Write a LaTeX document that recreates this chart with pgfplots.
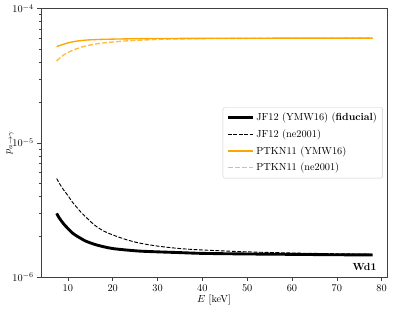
\documentclass[border=0pt]{standalone}
\usepackage{pgfplots}
\pgfplotsset{compat=1.18}
\definecolor{mplorange}{HTML}{FFA500}
\begin{document}
\begin{tikzpicture}
\begin{axis}[
  scale only axis,
  width=336pt, height=260.7pt,
  ymode=log,
  xmin=4, xmax=81.2,
  ymin=1e-6, ymax=1e-4,
  xtick={10,20,30,40,50,60,70,80},
  tick align=outside,
  tick pos=left,
  axis line style={black!75},
  every tick/.style={black!75},
  major tick length=3.5pt,
  minor tick length=2pt,
  xticklabel style={yshift=-1pt},
  xlabel={$E$ [keV]},
  ylabel={$p_{a\to\gamma}$},
  every axis x label/.style={at={(axis description cs:0.5,-0.0855)}, anchor=center},
  every axis y label/.style={at={(axis description cs:-0.0896,0.5)}, anchor=center, rotate=90},
  legend cell align=left,
  legend style={at={(rel axis cs:0.988,0.5)}, anchor=east,
    draw=black!20, rounded corners=2pt, fill=white, fill opacity=0.8, text opacity=1,
    row sep=3.2pt, inner sep=3.5pt},
  legend image code/.code={\draw[#1] (0cm,0cm) -- (0.85cm,0cm);},
]
\addplot[black, line width=2.8pt, smooth] coordinates {
(7.5,2.98e-6) (8,2.78e-6) (9,2.50e-6) (10,2.30e-6) (11,2.13e-6) (12,2.02e-6) (13,1.93e-6) (14,1.85e-6) (16,1.75e-6) (18,1.68e-6) (20,1.63e-6) (23,1.59e-6) (26,1.56e-6) (30,1.54e-6) (35,1.52e-6) (40,1.50e-6) (50,1.485e-6) (60,1.475e-6) (70,1.465e-6) (78,1.46e-6)};
\addlegendentry{JF12 (YMW16) (\textbf{fiducial})}
\addplot[black, line width=0.9pt, dash pattern=on 3.7pt off 1.6pt, smooth] coordinates {
(7.5,5.42e-6) (8,5.05e-6) (9,4.48e-6) (10,4.05e-6) (11,3.62e-6) (12,3.30e-6) (13,3.02e-6) (14,2.80e-6) (16,2.43e-6) (18,2.20e-6) (20,2.06e-6) (23,1.90e-6) (26,1.79e-6) (30,1.70e-6) (35,1.63e-6) (40,1.59e-6) (50,1.54e-6) (60,1.51e-6) (70,1.49e-6) (78,1.48e-6)};
\addlegendentry{JF12 (ne2001)}
\addplot[mplorange, line width=1.3pt, smooth] coordinates {
(7.5,5.20e-5) (8,5.28e-5) (9,5.42e-5) (10,5.55e-5) (12,5.72e-5) (14,5.82e-5) (16,5.87e-5) (18,5.90e-5) (20,5.92e-5) (25,5.96e-5) (30,5.98e-5) (40,6.00e-5) (50,6.01e-5) (60,6.02e-5) (78,6.02e-5)};
\addlegendentry{PTKN11 (YMW16)}
\addplot[mplorange, opacity=0.75, line width=1.3pt, dash pattern=on 4.8pt off 2.1pt, smooth] coordinates {
(7.5,4.07e-5) (8,4.22e-5) (9,4.50e-5) (10,4.70e-5) (11,4.88e-5) (12,5.02e-5) (13.4,5.20e-5) (15,5.35e-5) (17,5.50e-5) (20,5.63e-5) (23,5.74e-5) (27,5.83e-5) (32,5.92e-5) (40,5.97e-5) (50,6.00e-5) (60,6.01e-5) (78,6.02e-5)};
\addlegendentry{PTKN11 (ne2001)}
\node[anchor=base east] at (rel axis cs:0.98,0.025) {\textbf{Wd1}};
\end{axis}
\pgfresetboundingbox
\path ([shift={(-39.8pt,-32pt)}]current axis.south west) rectangle ([shift={(6.8pt,8.3pt)}]current axis.north east);
\end{tikzpicture}
\end{document}
